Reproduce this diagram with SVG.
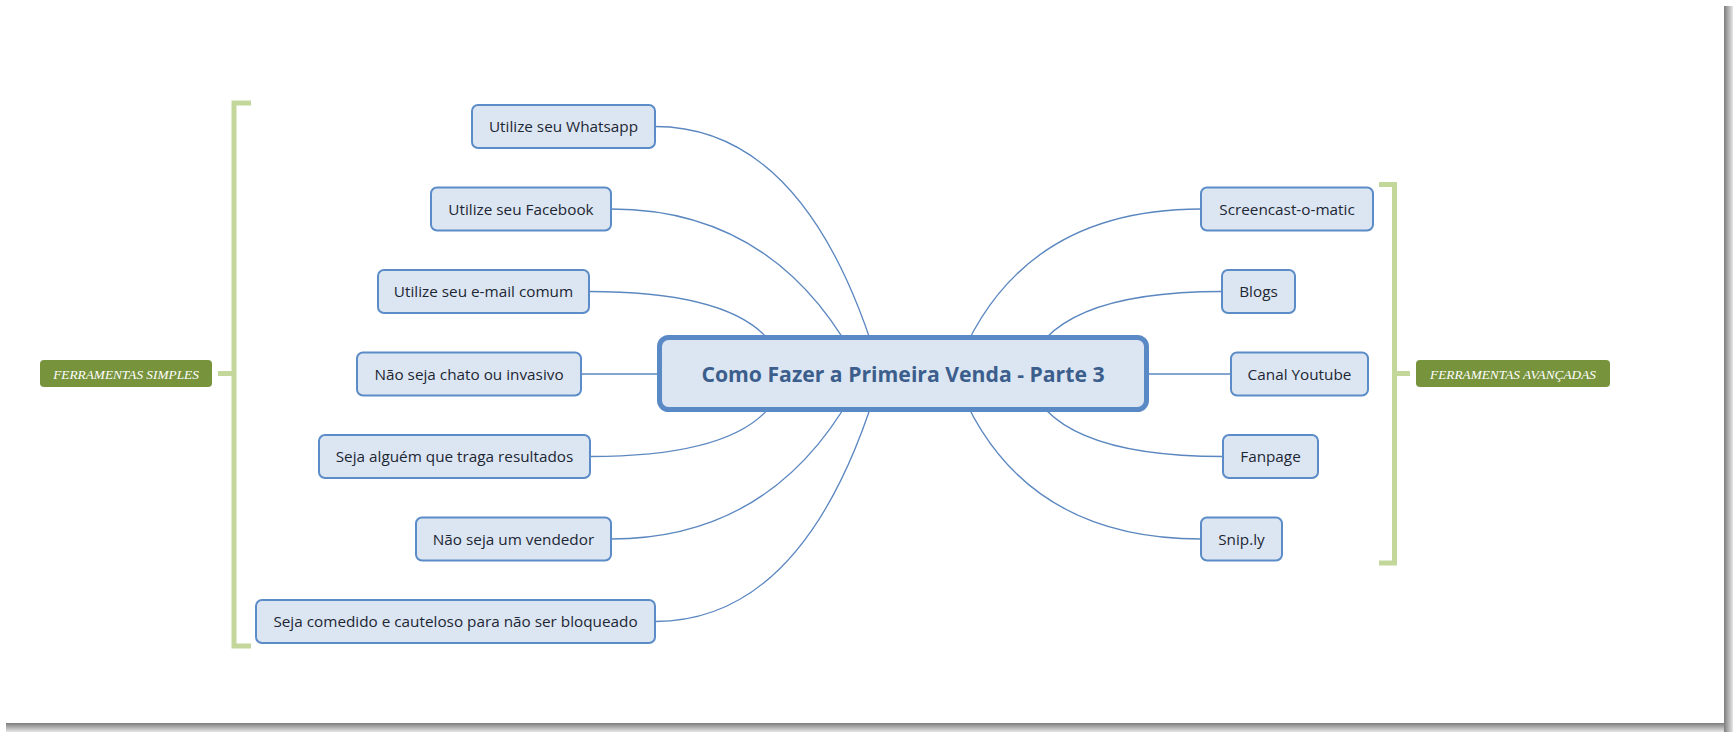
<svg xmlns="http://www.w3.org/2000/svg" width="1733" height="732" viewBox="0 0 1733 732">
<defs>
<linearGradient id="shR" x1="0" y1="0" x2="1" y2="0">
<stop offset="0" stop-color="#7d7d7d"/><stop offset="1" stop-color="#e6e6e6"/>
</linearGradient>
<linearGradient id="shB" x1="0" y1="0" x2="0" y2="1">
<stop offset="0" stop-color="#7d7d7d"/><stop offset="1" stop-color="#e6e6e6"/>
</linearGradient>
<style>
.node rect{fill:#dce6f2;stroke:#5b8cc8;stroke-width:2}
.node text{font-family:"Open Sans","DejaVu Sans",sans-serif;font-size:15.3px;fill:#1d2633;text-anchor:middle}
.conn path{fill:none;stroke:#5b87c0;stroke-width:1.3}
.br{fill:none;stroke:#c4d79b;stroke-width:5}
.lab rect{fill:#77933c}
.lab text{font-family:"Liberation Serif",serif;font-style:italic;font-size:13.3px;fill:#ffffff;text-anchor:middle}
</style>
</defs>
<rect x="0" y="0" width="1733" height="732" fill="#ffffff"/>
<rect x="1724" y="6" width="9" height="726" fill="url(#shR)"/>
<rect x="6" y="723" width="1718" height="9" fill="url(#shB)"/>

<g id="connectors" class="conn">
<path d="M655,126.5 Q809,126.5 881,374"/>
<path d="M611,209 Q781,209 863,374"/>
<path d="M589,291.5 Q770,291.5 785,374"/>
<path d="M581,374 L700,374"/>
<path d="M590,456.5 Q770,456.5 785,374"/>
<path d="M611,539 Q781,539 863,374"/>
<path d="M655,621.5 Q809,621.5 881,374"/>
<path d="M1201,209 Q1015,209 954,374"/>
<path d="M1222,291.5 Q1047,291.5 1026,374"/>
<path d="M1100,374 L1231,374"/>
<path d="M1223,456.5 Q1047,456.5 1026,374"/>
<path d="M1201,539 Q1015,539 954,374"/>
</g>

<g id="bracket-left">
<path class="br" d="M251,103 H234 V646 H251 M234,373.5 H218"/>
</g>
<g id="bracket-right">
<path class="br" d="M1379,184.5 H1394.5 V563 H1379 M1394.5,373.5 H1410"/>
</g>

<g id="label-simples" class="lab">
<rect x="40" y="360" width="172" height="27" rx="4"/>
<text x="126" y="378.5">FERRAMENTAS SIMPLES</text>
</g>
<g id="label-avancadas" class="lab">
<rect x="1416" y="360" width="194" height="27" rx="4"/>
<text x="1513" y="378.5">FERRAMENTAS AVANÇADAS</text>
</g>

<g id="central">
<rect x="659.5" y="337.5" width="487" height="72" rx="9" fill="#dce6f2" stroke="#5a8ac6" stroke-width="5"/>
<text x="903" y="381.5" font-family="'Open Sans','DejaVu Sans',sans-serif" font-weight="bold" font-size="21.2" fill="#3b5e8c" text-anchor="middle">Como Fazer a Primeira Venda - Parte 3</text>
</g>

<g id="n-whatsapp" class="node"><rect x="472" y="105" width="183" height="43" rx="6"/><text x="563.5" y="132">Utilize seu Whatsapp</text></g>
<g id="n-facebook" class="node"><rect x="431" y="187.5" width="180" height="43" rx="6"/><text x="521" y="214.5">Utilize seu Facebook</text></g>
<g id="n-email" class="node"><rect x="378" y="270" width="211" height="43" rx="6"/><text x="483.5" y="297">Utilize seu e-mail comum</text></g>
<g id="n-chato" class="node"><rect x="357" y="352.5" width="224" height="43" rx="6"/><text x="469" y="379.5">Não seja chato ou invasivo</text></g>
<g id="n-resultados" class="node"><rect x="319" y="435" width="271" height="43" rx="6"/><text x="454.5" y="462">Seja alguém que traga resultados</text></g>
<g id="n-vendedor" class="node"><rect x="416" y="517.5" width="195" height="43" rx="6"/><text x="513.5" y="544.5">Não seja um vendedor</text></g>
<g id="n-comedido" class="node"><rect x="256" y="600" width="399" height="43" rx="6"/><text x="455.5" y="627">Seja comedido e cauteloso para não ser bloqueado</text></g>

<g id="n-screencast" class="node"><rect x="1201" y="187.5" width="172" height="43" rx="6"/><text x="1287" y="214.5">Screencast-o-matic</text></g>
<g id="n-blogs" class="node"><rect x="1222" y="270" width="73" height="43" rx="6"/><text x="1258.5" y="297">Blogs</text></g>
<g id="n-youtube" class="node"><rect x="1231" y="352.5" width="137" height="43" rx="6"/><text x="1299.5" y="379.5">Canal Youtube</text></g>
<g id="n-fanpage" class="node"><rect x="1223" y="435" width="95" height="43" rx="6"/><text x="1270.5" y="462">Fanpage</text></g>
<g id="n-sniply" class="node"><rect x="1201" y="517.5" width="81" height="43" rx="6"/><text x="1241.5" y="544.5">Snip.ly</text></g>
</svg>
